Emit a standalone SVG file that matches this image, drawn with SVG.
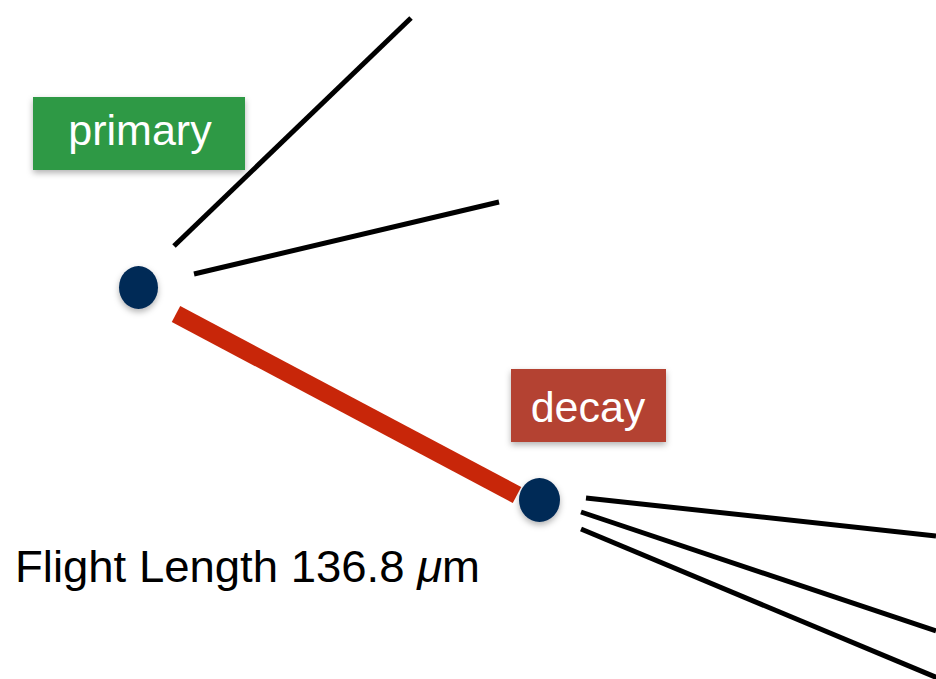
<svg xmlns="http://www.w3.org/2000/svg" width="936" height="679" viewBox="0 0 936 679">
<defs>
<filter id="sh" x="-30%" y="-30%" width="160%" height="170%">
<feDropShadow dx="0" dy="3" stdDeviation="3" flood-color="#000" flood-opacity="0.3"/>
</filter>
</defs>
<style>
.trk{stroke:#000;stroke-width:5;fill:none}
.vtx{fill:#062a56;filter:url(#sh)}
.lbl{fill:#fff;font-family:"Liberation Sans",Arial,sans-serif;font-size:43px;text-anchor:middle}
.box{filter:url(#sh)}
</style>
<rect width="936" height="679" fill="#fff"/>
<g id="connectors">
<line class="trk" x1="174" y1="246" x2="411" y2="18"/>
<line class="trk" x1="194" y1="274" x2="499" y2="202"/>
<line x1="176" y1="314" x2="517" y2="495" stroke="#c82609" stroke-width="18"/>
<line class="trk" x1="586" y1="498" x2="936" y2="536"/>
<line class="trk" x1="581" y1="512" x2="936" y2="631"/>
<line class="trk" x1="581" y1="529" x2="940" y2="679"/>
</g>
<g id="primary-label">
<rect class="box" x="33" y="97" width="212" height="73" fill="#2f9944"/>
<text class="lbl" x="140" y="145">primary</text>
</g>
<g id="primary-vertex">
<ellipse class="vtx" cx="138.5" cy="287.5" rx="19.5" ry="21.5"/>
</g>
<g id="decay-label">
<rect class="box" x="511" y="369" width="155" height="73" fill="#b44232"/>
<text class="lbl" x="588" y="422">decay</text>
</g>
<g id="decay-vertex">
<ellipse class="vtx" cx="539.5" cy="500" rx="20.5" ry="22"/>
</g>
<g id="flight-length">
<text x="15" y="582" font-family="'Liberation Sans',Arial,sans-serif" font-size="44" fill="#000" textLength="465" lengthAdjust="spacingAndGlyphs">Flight Length 136.8 <tspan font-style="italic">μ</tspan>m</text>
</g>
</svg>
